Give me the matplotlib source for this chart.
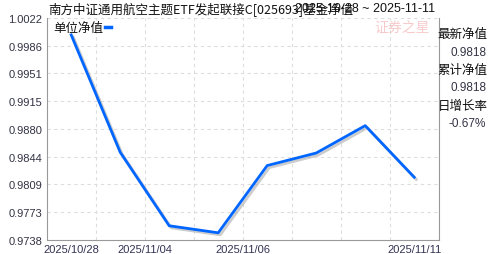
import matplotlib
matplotlib.use('Agg')
import matplotlib.pyplot as plt
import matplotlib.patheffects as pe
import numpy as np

plt.rcParams['font.family'] = ['Noto Sans CJK SC', 'DejaVu Sans']

# fund NAV points
nav = [1.0000, 0.9850, 0.9756, 0.9747, 0.9833, 0.9849, 0.9884, 0.9818]
xlabels = ['2025/10/28', '2025/11/04', '2025/11/06', '2025/11/11']
xlabel_pos = [0, 1.5, 3.5, 7]
yticks = [0.97378 + 0.00355 * k for k in range(9)]
info_names = ['最新净值', '累计净值', '日增长率']
info_values = ['0.9818', '0.9818', '-0.67%']

x = np.arange(len(nav))

fig = plt.figure(figsize=(4.88, 2.55), dpi=100)
ax = fig.add_axes([0.0957, 0.0549, 0.8033, 0.8711])

ax.plot(x, nav, color='#0066ff', lw=2.0, solid_joinstyle='round',
        path_effects=[pe.SimpleLineShadow(offset=(1.5, -1.5), shadow_color='#aaaaaa', alpha=0.6),
                      pe.Normal()], zorder=3)

ax.set_xlim(-0.5, 7.5)
ax.set_ylim(yticks[0], yticks[-1])
ax.set_yticks(yticks)
ax.set_yticklabels(['%.4f' % v for v in yticks], fontsize=8, color='#333344', family='Liberation Sans')
ax.set_xticks(xlabel_pos)
ax.set_xticklabels(xlabels, fontsize=8, color='#333355', family='Liberation Sans')
ax.tick_params(length=0, pad=3)

# dashed grid
for gx in np.arange(-0.5, 7.6, 1.0):
    ax.axvline(gx, color='#dddddd', ls=(0, (3, 3)), lw=0.8, zorder=1)
for gy in yticks[1:]:
    ax.axhline(gy, color='#dddddd', ls=(0, (3, 3)), lw=0.8, zorder=1)

for s in ['left', 'bottom', 'right']:
    ax.spines[s].set_color('#999999')
ax.spines['top'].set_visible(False)

# legend
ax.text(0.018, 0.985, '单位净值', transform=ax.transAxes, fontsize=9, va='top', ha='left', color='#111111')
ax.plot([0.148, 0.163], [0.96, 0.96], transform=ax.transAxes, color='#0066ff', lw=2.5)

# watermark
ax.text(0.978, 0.955, '证券之星', transform=ax.transAxes, fontsize=10, ha='right', va='center',
        color='#f5b5b5', alpha=0.7, style='italic')

# title
fig.text(0.098, 0.99, '南方中证通用航空主题ETF发起联接C[025693]基金净值', fontsize=9, va='top', ha='left', color='#111111')
fig.text(0.892, 0.99, '2025-10-28 ~ 2025-11-11', fontsize=9, va='top', ha='right', color='#111111', family='Liberation Sans')

# right info panel
ys = [0.863, 0.793, 0.722, 0.655, 0.582, 0.514]
for i in range(3):
    fig.text(0.999, ys[2 * i], info_names[i], fontsize=9, ha='right', va='center', color='#111111')
    fig.text(0.996, ys[2 * i + 1], info_values[i], fontsize=8.5, ha='right', va='center', color='#333344', family='Liberation Sans')

fig.savefig('out.png', dpi=100)
